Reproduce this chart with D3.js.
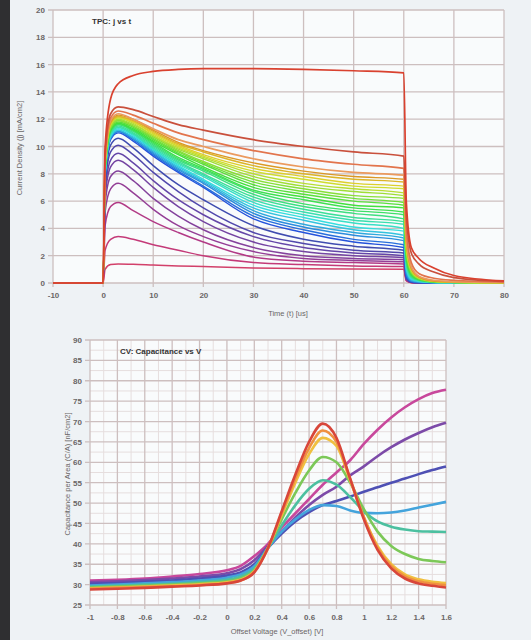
<!DOCTYPE html>
<html><head><meta charset="utf-8">
<script src="https://cdn.jsdelivr.net/npm/d3@7"></script>
<style>
html,body{margin:0;padding:0;background:#eef2f5;}
svg{display:block;font-family:"Liberation Sans",Arial,sans-serif;}
</style></head>
<body>
<svg id="c" width="531" height="640"></svg>
<script>
// ---------- TPC data (top chart) ----------
const tpcTime = [-10, 0, 0.4, 1.5, 3, 6, 10, 15, 20, 30, 40, 50, 60, 60.5, 61.5, 63, 66, 70, 80];
const tpcXTicks = [-10, 0, 10, 20, 30, 40, 50, 60, 70, 80];
const tpcYTicks = [0, 2, 4, 6, 8, 10, 12, 14, 16, 18, 20];
// low-current curves (magenta -> violet), bottom to top
const tpcLow = [
  [0,0,1.0,1.35,1.4,1.38,1.32,1.25,1.2,1.1,1.05,1.02,1.0,0.15,0.02,0,0,0,0],
  [0,0,2.4,3.2,3.4,3.2,2.8,2.4,2.0,1.5,1.35,1.25,1.2,0.2,0.03,0.01,0,0,0],
  [0,0,4.2,5.6,5.9,5.3,4.5,3.7,3.0,1.9,1.6,1.5,1.4,0.2,0.04,0.02,0,0,0],
  [0,0,5.2,6.9,7.3,6.6,5.4,4.2,3.4,2.3,1.8,1.65,1.55,0.25,0.05,0.02,0,0,0],
  [0,0,5.8,7.8,8.2,7.5,6.2,4.9,3.9,2.6,2.0,1.8,1.7,0.25,0.05,0.02,0,0,0],
  [0,0,6.3,8.5,9.0,8.3,7.0,5.6,4.5,3.0,2.3,2.0,1.85,0.3,0.05,0.02,0.01,0,0],
  [0,0,6.7,9.0,9.5,8.8,7.5,6.1,5.0,3.4,2.6,2.2,2.0,0.3,0.06,0.02,0.01,0,0],
  [0,0,7.1,9.6,10.1,9.4,8.1,6.7,5.5,3.7,2.9,2.4,2.2,0.35,0.07,0.03,0.01,0,0],
  [0,0,7.4,10.1,10.6,9.9,8.6,7.2,6.1,4.2,3.2,2.7,2.4,0.4,0.08,0.03,0.01,0,0]
];
const tpcLowColors = ["#d2406a","#c43a78","#b23a86","#943e96","#84429c","#7444a2","#6446a8","#5148ac","#3f4cb0"];
// rainbow band, blue (bottom) to orange-yellow (top)
const tpcBand = [
  [0,0,7.7,10.5,11.0,10.4,9.3,8.1,7.0,4.7,3.7,3.0,2.6,0.5,0.1,0.04,0.02,0.01,0],
  [0,0,7.8,10.6,11.1,10.5,9.4,8.2,7.1,4.9,3.9,3.2,2.8,0.6,0.12,0.05,0.02,0.01,0],
  [0,0,7.8,10.6,11.1,10.6,9.5,8.3,7.3,5.1,4.1,3.5,3.1,0.7,0.15,0.07,0.03,0.01,0],
  [0,0,7.9,10.7,11.2,10.6,9.6,8.4,7.4,5.3,4.3,3.7,3.3,0.9,0.2,0.09,0.03,0.02,0],
  [0,0,7.9,10.7,11.2,10.7,9.7,8.5,7.5,5.5,4.6,3.9,3.5,1.0,0.25,0.11,0.04,0.02,0.01],
  [0,0,8.0,10.8,11.3,10.8,9.8,8.6,7.6,5.7,4.8,4.1,3.8,1.1,0.3,0.13,0.04,0.02,0.01],
  [0,0,8.1,10.9,11.4,10.9,9.8,8.7,7.8,5.9,5.0,4.4,4.0,1.2,0.35,0.15,0.05,0.03,0.01],
  [0,0,8.1,10.9,11.4,10.9,9.9,8.8,7.9,6.1,5.2,4.6,4.3,1.4,0.4,0.17,0.06,0.03,0.01],
  [0,0,8.2,11.0,11.5,11.0,10.0,8.9,8.0,6.3,5.4,4.8,4.5,1.5,0.45,0.19,0.06,0.03,0.01],
  [0,0,8.3,11.1,11.6,11.1,10.1,9.0,8.2,6.5,5.6,5.1,4.7,1.6,0.5,0.21,0.07,0.04,0.01],
  [0,0,8.3,11.1,11.6,11.2,10.2,9.1,8.3,6.7,5.8,5.3,5.0,1.7,0.55,0.23,0.08,0.04,0.01],
  [0,0,8.4,11.2,11.7,11.2,10.3,9.2,8.4,6.8,6.1,5.5,5.2,1.9,0.6,0.25,0.08,0.04,0.01],
  [0,0,8.4,11.2,11.7,11.3,10.4,9.4,8.5,7.0,6.3,5.7,5.5,2.0,0.65,0.27,0.09,0.05,0.02],
  [0,0,8.5,11.3,11.8,11.4,10.5,9.5,8.7,7.2,6.5,6.0,5.7,2.1,0.7,0.29,0.10,0.05,0.02],
  [0,0,8.6,11.4,11.9,11.5,10.6,9.6,8.8,7.4,6.7,6.2,5.9,2.2,0.75,0.31,0.10,0.05,0.02],
  [0,0,8.6,11.4,11.9,11.5,10.7,9.7,8.9,7.6,6.9,6.4,6.2,2.4,0.8,0.33,0.11,0.06,0.02],
  [0,0,8.7,11.5,12.0,11.6,10.8,9.8,9.1,7.8,7.1,6.7,6.4,2.5,0.85,0.35,0.12,0.06,0.02],
  [0,0,8.8,11.6,12.1,11.7,10.8,9.9,9.2,8.0,7.3,6.9,6.6,2.6,0.9,0.37,0.12,0.06,0.02],
  [0,0,8.8,11.6,12.1,11.8,10.9,10.0,9.3,8.2,7.6,7.1,6.9,2.7,0.95,0.39,0.13,0.07,0.03],
  [0,0,8.9,11.7,12.2,11.8,11.0,10.1,9.4,8.4,7.8,7.3,7.1,2.9,1.0,0.41,0.14,0.07,0.03],
  [0,0,8.9,11.7,12.2,11.9,11.1,10.2,9.6,8.6,8.0,7.6,7.4,3.0,1.05,0.43,0.14,0.08,0.03],
  [0,0,9.0,11.8,12.3,12.0,11.2,10.3,9.7,8.8,8.2,7.8,7.6,3.1,1.1,0.45,0.15,0.08,0.03]
];
// high-current curves (orange -> red), bottom to top
const tpcHigh = [
  [0,0,9.0,11.9,12.4,12.0,11.3,10.5,10.0,9.1,8.5,8.1,7.9,3.4,1.2,0.5,0.2,0.1,0.05],
  [0,0,9.2,12.1,12.6,12.3,11.7,11.0,10.5,9.7,9.1,8.7,8.4,4.0,1.5,0.7,0.35,0.2,0.08],
  [0,0,9.5,12.4,12.9,12.7,12.2,11.6,11.2,10.5,10.0,9.6,9.3,5.0,2.2,1.4,0.8,0.4,0.12],
  [0,0,10.0,13.5,14.6,15.2,15.5,15.65,15.7,15.7,15.65,15.55,15.4,6.0,2.6,1.8,1.1,0.55,0.15]
];
const tpcHighColors = ["#eb9a5e","#e2744c","#c9503c","#d9412f"];

// ---------- CV data (bottom chart) ----------
const cvVoltage = [-1, -0.8, -0.6, -0.4, -0.2, 0, 0.1, 0.2, 0.3, 0.4, 0.5, 0.6, 0.7, 0.8, 0.9, 1.0, 1.1, 1.2, 1.3, 1.4, 1.5, 1.6];
const cvXTicks = [-1, -0.8, -0.6, -0.4, -0.2, 0, 0.2, 0.4, 0.6, 0.8, 1, 1.2, 1.4, 1.6];
const cvYTicks = [25, 30, 35, 40, 45, 50, 55, 60, 65, 70, 75, 80, 85, 90];
const cvColors = ["#c8489c","#7c4aa8","#4e50b4","#44a4dc","#4cc0a0","#7cc858","#f0c040","#f09040","#d8463a"];
const cvValues = [
  [31,31.2,31.5,32,32.6,33.5,34.6,37,40,44,47.5,51,54.5,57.5,60.5,64.5,68,71,73.5,75.5,77,77.8],
  [30.6,30.8,31.1,31.5,32,32.8,33.8,36,39.5,43,46.5,49.5,52,54,56.8,59,61.5,63.7,65.6,67.2,68.6,69.7],
  [30.2,30.4,30.7,31,31.5,32.2,33,35,39,42.5,45.5,47.8,49.5,50.5,51.6,52.8,53.9,55,56,57.1,58.1,59],
  [29.8,30,30.3,30.6,31,31.7,32.5,34.5,39,43,46,48.3,49.5,49.3,48.2,47.6,47.5,47.7,48.2,48.9,49.6,50.3],
  [29.5,29.7,30,30.2,30.6,31.2,32,34,39,44.5,49.5,53.5,55.6,54.5,51.5,48,45.5,44.2,43.5,43.1,43,42.9],
  [29.3,29.5,29.7,30,30.3,30.8,31.5,33.5,39,46,52.5,58,61.3,60,55,48.5,43,39.5,37.5,36.3,35.8,35.5],
  [29.1,29.3,29.5,29.8,30.1,30.6,31.2,33.3,39,47,55,62,66,64,55.5,46.5,39.5,35,32.5,31.3,30.7,30.4],
  [29,29.2,29.4,29.6,29.9,30.4,31,33.2,39,47.5,56,63.5,67.8,65,56,46.5,39,34.5,32,30.8,30.2,29.9],
  [28.8,29,29.2,29.5,29.8,30.3,31,33,39,48,57,65,69.5,66,56,46,38.5,34,31.5,30.3,29.7,29.3]
];

// band colours: hue from blue (bottom) to orange-yellow (top)
const bandColors = tpcBand.map((d,i)=>{
  const f = i/(tpcBand.length-1);
  const h = 225 - f*187;
  const l = 0.50 + 0.06*Math.sin(Math.PI*f);
  return d3.hsl(h, 0.72, l).formatHex();
});
const tpcValues = tpcLow.concat(tpcBand, tpcHigh);
const tpcColors = tpcLowColors.concat(bandColors, tpcHighColors);
const tpcWidths = tpcLow.map(()=>1.5).concat(tpcBand.map(()=>1.4), tpcHigh.map(()=>1.7));

const svg = d3.select("#c");
svg.append("rect").attr("x",0).attr("y",0).attr("width",10).attr("height",640).attr("fill","#2f2f31");

const gridCol = "#cdbfbf", minorCol = "#e6dede", labCol = "#6a6666";
const fmt = d => String(d);

function drawChart(o){
  const g = svg.append("g");
  const x = d3.scaleLinear().domain(o.xDom).range([o.left, o.right]);
  const y = d3.scaleLinear().domain(o.yDom).range([o.bottom, o.top]);
  g.append("rect").attr("x",o.left).attr("y",o.top).attr("width",o.right-o.left).attr("height",o.bottom-o.top).attr("fill","#f9fbfc");
  if (o.minorX) g.selectAll(".mx").data(o.minorX).join("line")
    .attr("x1",d=>x(d)).attr("x2",d=>x(d)).attr("y1",o.top).attr("y2",o.bottom).attr("stroke",minorCol).attr("stroke-width",1);
  if (o.minorY) g.selectAll(".my").data(o.minorY).join("line")
    .attr("y1",d=>y(d)).attr("y2",d=>y(d)).attr("x1",o.left).attr("x2",o.right).attr("stroke",minorCol).attr("stroke-width",1);
  g.selectAll(".gx").data(o.xTicks).join("line")
    .attr("x1",d=>x(d)).attr("x2",d=>x(d)).attr("y1",o.top).attr("y2",o.bottom+4).attr("stroke",gridCol).attr("stroke-width",1.3);
  g.selectAll(".gy").data(o.yTicks).join("line")
    .attr("y1",d=>y(d)).attr("y2",d=>y(d)).attr("x1",o.left-5).attr("x2",o.right).attr("stroke",gridCol).attr("stroke-width",1.3);
  const ax = d3.axisBottom(x).tickValues(o.xTicks).tickSize(0).tickPadding(9).tickFormat(fmt);
  const ay = d3.axisLeft(y).tickValues(o.yTicks).tickSize(0).tickPadding(8).tickFormat(fmt);
  const gx = g.append("g").attr("transform",`translate(0,${o.bottom})`).call(ax);
  const gy = g.append("g").attr("transform",`translate(${o.left},0)`).call(ay);
  [gx,gy].forEach(a=>{
    a.select(".domain").remove();
    a.selectAll("text").attr("fill",labCol).style("font-size","8px").style("font-weight","bold");
  });
  const line = d3.line().x((d,i)=>x(o.xs[i])).y(d=>y(d)).curve(d3.curveMonotoneX);
  g.selectAll(".ln").data(o.values).join("path")
    .attr("d",d=>line(d)).attr("fill","none")
    .attr("stroke",(d,i)=>o.colors[i]).attr("stroke-width",(d,i)=>o.widths? o.widths[i] : o.lw)
    .attr("stroke-linejoin","round");
  g.append("text").attr("x",o.titleX).attr("y",o.titleY).text(o.title)
    .attr("fill","#333").style("font-size","8px").style("font-weight","bold");
  g.append("text").attr("x",o.xTitleX).attr("y",o.xTitleY).attr("text-anchor","middle")
    .text(o.xTitle).attr("fill",labCol).style("font-size","7.5px");
  g.append("text").attr("transform",`translate(${o.yTitleX},${o.yTitleY}) rotate(-90)`).attr("text-anchor","middle")
    .text(o.yTitle).attr("fill",labCol).style("font-size","7.5px");
}

drawChart({
  xDom:[-10,80], yDom:[0,20], left:53, right:504, top:10, bottom:283,
  xTicks:tpcXTicks, yTicks:tpcYTicks,
  xs:tpcTime, values:tpcValues, colors:tpcColors, widths:tpcWidths,
  title:"TPC: j vs t", titleX:92, titleY:24,
  xTitle:"Time (t) [us]", xTitleX:288, xTitleY:316,
  yTitle:"Current Density (j) [mA/cm2]", yTitleX:22, yTitleY:148
});

drawChart({
  xDom:[-1,1.6], yDom:[25,90], left:90, right:446, top:340, bottom:605,
  xTicks:cvXTicks, yTicks:cvYTicks,
  minorX:d3.range(-0.9,1.6,0.2), minorY:d3.range(27.5,90,5),
  xs:cvVoltage, values:cvValues, colors:cvColors, lw:2.6,
  title:"CV: Capacitance vs V", titleX:120, titleY:354,
  xTitle:"Offset Voltage (V_offset) [V]", xTitleX:277, xTitleY:634,
  yTitle:"Capacitance per Area (C/A) [nF/cm2]", yTitleX:70, yTitleY:474
});
</script>
</body></html>
